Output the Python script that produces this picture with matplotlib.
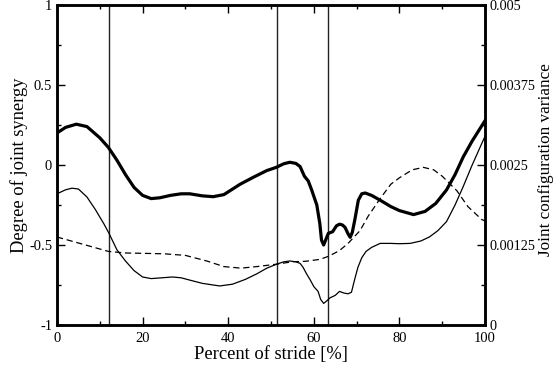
import matplotlib

matplotlib.use("Agg")
import matplotlib.pyplot as plt
from matplotlib.ticker import MultipleLocator

plt.rcParams["font.family"] = ["Liberation Serif", "DejaVu Serif"]

# thick curve: degree of joint synergy (left axis)
syn_x = [0, 2, 4.5, 7, 10, 12, 14, 16, 18, 20, 22, 24, 26.5, 29, 31, 34, 36.5,
         39, 42.8, 46, 49, 51.2, 53, 54.4, 55.8, 56.8, 57.8, 58.7, 59.5, 60.7,
         61.4, 61.8, 62.3, 62.9, 63.4, 64.4, 65.3, 66, 66.7, 67.3, 68, 68.5,
         69, 69.6, 70.4, 71.2, 72, 73.5, 75.5, 78, 80, 83.3, 86, 88.5, 91, 93,
         94.9, 97, 100]
syn_y = [0.2, 0.235, 0.255, 0.24, 0.17, 0.11, 0.03, -0.06, -0.14, -0.19, -0.21,
         -0.205, -0.19, -0.18, -0.18, -0.193, -0.198, -0.185, -0.12, -0.075,
         -0.035, -0.015, 0.008, 0.017, 0.01, -0.01, -0.07, -0.1, -0.156, -0.25,
         -0.365, -0.47, -0.5, -0.46, -0.427, -0.417, -0.38, -0.37, -0.375,
         -0.39, -0.43, -0.452, -0.42, -0.34, -0.22, -0.18, -0.175, -0.19, -0.22,
         -0.26, -0.285, -0.31, -0.29, -0.24, -0.156, -0.06, 0.05, 0.15, 0.277]

# thin curve (left axis)
thin_x = [0, 2, 3.5, 5, 7, 9, 11, 12.2, 14, 16, 18, 20, 22, 24.5, 27, 29, 31.1,
          34, 38, 41, 44, 46.7, 49, 51.3, 53, 54.4, 55.8, 56.8, 57.5, 58.3,
          59.2, 60, 61, 61.6, 62.3, 63, 63.8, 65, 66, 67, 68, 68.8, 69.5, 70.3,
          71.2, 72.2, 73.5, 75.5, 78, 80, 82.5, 85, 87, 89, 91, 93, 94.9, 97, 100]
thin_y = [-0.18, -0.155, -0.145, -0.15, -0.2, -0.28, -0.37, -0.43, -0.53, -0.6,
          -0.66, -0.7, -0.71, -0.705, -0.7, -0.705, -0.72, -0.74, -0.756,
          -0.745, -0.715, -0.68, -0.645, -0.62, -0.605, -0.6, -0.605, -0.615,
          -0.64, -0.68, -0.72, -0.76, -0.79, -0.84, -0.865, -0.85, -0.83,
          -0.815, -0.79, -0.8, -0.805, -0.795, -0.72, -0.64, -0.58, -0.54,
          -0.515, -0.49, -0.49, -0.492, -0.49, -0.475, -0.45, -0.41, -0.354,
          -0.25, -0.135, 0.0, 0.18]

# dashed curve: joint configuration variance (right axis)
var_x = [0, 4, 8, 12, 16, 20, 25, 30, 35, 39, 43, 46.7, 51.3, 55, 58, 61.4,
         63.5, 66, 68, 70.8, 72.7, 75.5, 78, 80, 83, 85.6, 88, 90, 93.4, 96,
         99.2, 100]
var_y = [0.001375, 0.0013, 0.001225, 0.00115, 0.001125, 0.00112, 0.0011125,
         0.0010875, 0.001, 0.0009125, 0.000888, 0.000913, 0.00095, 0.000988,
         0.000995, 0.001025, 0.001075, 0.001163, 0.001275, 0.001475, 0.0017,
         0.001975, 0.0022, 0.0023, 0.002425, 0.002463, 0.002425, 0.002325,
         0.0021, 0.00185, 0.00165, 0.001625]

event_x = [12.2, 51.3, 63.3]

x_ticks = [0, 20, 40, 60, 80, 100]
left_ticks = [-1, -0.5, 0, 0.5, 1]
left_labels = ["-1", "-0.5", "0", "0.5", "1"]
right_ticks = [0, 0.00125, 0.0025, 0.00375, 0.005]
right_labels = ["0", "0.00125", "0.0025", "0.00375", "0.005"]

fig = plt.figure(figsize=(5.55, 3.79), dpi=100)
ax = fig.add_axes([0.1027, 0.1425, 0.7712, 0.8443])
ax2 = ax.twinx()

ax.plot(syn_x, syn_y, color="black", lw=2.3, zorder=4)
ax.plot(thin_x, thin_y, color="black", lw=0.9, zorder=3)
ax2.plot(var_x, var_y, color="black", lw=0.9, ls=(0, (5, 3)))
for xv in event_x:
    ax.axvline(xv, color="#222222", lw=1.0, zorder=2)

ax.set_xlim(0, 100)
ax.set_ylim(-1, 1)
ax2.set_ylim(0, 0.005)

ax.set_xticks(x_ticks)
ax.set_xticklabels([str(t) for t in x_ticks])
ax.xaxis.set_minor_locator(MultipleLocator(10))
ax.set_yticks(left_ticks)
ax.set_yticklabels(left_labels)
ax.yaxis.set_minor_locator(MultipleLocator(0.25))
ax2.set_yticks(right_ticks)
ax2.set_yticklabels(right_labels)
ax2.yaxis.set_minor_locator(MultipleLocator(0.000625))

ax.tick_params(which="both", direction="in", top=True, right=False, labelsize=10.5)
ax.tick_params(which="major", length=6, width=1)
ax.tick_params(which="minor", length=3, width=1)
ax.tick_params(axis="x", pad=5)
ax2.tick_params(which="both", direction="in", labelsize=10.3, pad=3)
ax2.tick_params(which="major", length=6, width=1)
ax2.tick_params(which="minor", length=3, width=1)

for a in (ax, ax2):
    for s in a.spines.values():
        s.set_linewidth(1.8)

ax.set_xlabel("Percent of stride [%]", fontsize=13.3, labelpad=1)
ax.set_ylabel("Degree of joint synergy", fontsize=13.3, labelpad=1)
# right label placed by hand so it stays inside the canvas
fig.text(0.983, 0.578, "Joint configuration variance", fontsize=12.3,
         rotation=90, ha="center", va="center")

fig.savefig("out.png", dpi=100)
